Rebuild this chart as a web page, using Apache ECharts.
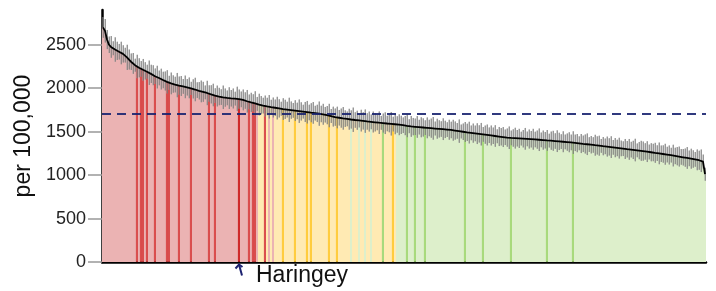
<!DOCTYPE html>
<html>
<head>
<meta charset="utf-8">
<script src="https://cdn.jsdelivr.net/npm/echarts@6/dist/echarts.min.js"></script>
<style>html,body{margin:0;padding:0;background:#fff;}#c{width:716px;height:291px;}</style>
</head>
<body>
<div id="c"></div>
<script>
// Rates per 100,000, sorted descending
const values = [
2700,2660,2560,2500,2475,2460,2445,2430,2420,2405,
2395,2380,2355,2330,2305,2285,2265,2250,2235,2222,
2212,2200,2190,2178,2165,2150,2138,2128,2118,2105,
2095,2083,2073,2062,2055,2048,2042,2036,2030,2025,
2020,2015,2010,2004,1998,1992,1985,1978,1970,1963,
1958,1952,1945,1938,1930,1922,1915,1910,1904,1898,
1895,1892,1889,1886,1884,1882,1880,1878,1875,1872,
1865,1858,1850,1843,1837,1831,1825,1820,1812,1805,
1800,1795,1790,1786,1782,1778,1775,1771,1768,1764,
1760,1757,1754,1751,1748,1745,1742,1739,1736,1733,
1730,1727,1724,1721,1718,1716,1713,1710,1707,1704,
1700,1695,1690,1685,1680,1673,1667,1663,1660,1656,
1653,1650,1647,1643,1640,1637,1634,1631,1629,1627,
1624,1621,1618,1616,1613,1611,1608,1606,1603,1601,
1599,1597,1594,1592,1590,1587,1585,1583,1580,1578,
1574,1570,1566,1563,1560,1558,1556,1554,1552,1550,
1548,1546,1544,1542,1540,1538,1536,1534,1532,1530,
1528,1526,1524,1522,1520,1516,1513,1509,1506,1502,
1499,1496,1492,1489,1486,1483,1480,1477,1474,1471,
1468,1465,1462,1459,1456,1453,1450,1447,1444,1441,
1438,1435,1432,1430,1428,1427,1425,1424,1422,1420,
1419,1418,1416,1415,1413,1412,1410,1408,1407,1405,
1403,1401,1399,1397,1396,1394,1392,1390,1388,1386,
1384,1382,1380,1378,1376,1374,1371,1368,1366,1363,
1360,1358,1355,1352,1350,1347,1344,1341,1339,1336,
1333,1331,1328,1325,1322,1319,1316,1313,1310,1307,
1304,1301,1298,1296,1293,1290,1288,1285,1282,1279,
1276,1273,1270,1266,1263,1260,1256,1253,1250,1246,
1243,1240,1236,1232,1229,1225,1221,1217,1213,1209,
1205,1201,1197,1193,1189,1185,1181,1176,1171,1165,
1156,1010
];
// 95% confidence interval half-widths (estimated)
const errHalf = [
120,135,110,95,125,80,140,105,90,130,
100,85,145,115,95,120,75,135,110,90,
125,100,80,140,105,115,90,130,85,120,
95,110,135,80,125,100,90,140,105,115,
85,130,95,120,75,110,135,90,100,125,
115,80,140,95,105,130,85,120,100,90,
135,105,85,125,95,115,80,140,110,90,
120,95,130,85,110,100,140,80,125,105,
90,120,100,135,85,115,95,130,105,80,
125,110,90,140,100,85,120,95,135,105,
80,115,130,90,110,125,85,100,140,95,
120,90,105,135,80,115,100,125,90,110,
130,95,85,120,105,140,90,110,80,125,
100,135,95,115,85,120,105,90,130,80,
110,125,90,100,135,85,115,95,120,105,
90,110,130,80,120,100,95,125,85,115,
105,85,120,95,110,130,80,115,100,90,
125,100,85,115,95,120,105,90,135,80,
95,115,100,125,85,110,90,120,100,130,
85,105,120,90,115,95,125,80,110,100,
115,90,105,130,85,100,120,95,110,80,
100,125,85,110,95,120,90,105,130,85,
110,95,120,80,105,115,90,125,100,85,
120,85,100,115,90,130,95,105,80,110,
95,110,125,85,100,90,120,105,115,80,
105,90,115,100,125,85,110,95,120,90,
85,115,95,120,90,105,130,80,100,115,
110,95,120,85,105,100,115,90,125,95,
100,120,90,110,85,125,95,105,115,90,
95,105,125,90,115,100,85,120,110,130,
80,75
];
// Significance groups: index where "similar" and "lower" bands start, plus exceptions
const similarFrom = 78;
const lowerFrom = 147;
const higherExtra = [81, 83, 85];
const lowerExtra = [124, 128, 131, 134, 140];
// Highlighted (darker) bars
const highlighted = [17,19,20,22,26,32,33,38,44,53,56,68,73,75,76,81,90,96,102,104,113,117,140,145,152,156,161,181,190,204,222,235];
const haringeyIndex = 68;
const englandValue = 1705;
const yTicks = [0, 500, 1000, 1500, 2000, 2500];
const categories = values.map((_, i) => i === haringeyIndex ? 'Haringey' : 'Area ' + (i + 1));

const palette = {
  higher: ['#ebb3b3', '#d43838'],
  similar: ['#ffeab3', '#ffc526'],
  lower: ['#ddefcb', '#9dd46c']
};
function groupOf(i) {
  if (higherExtra.includes(i)) return 'higher';
  if (lowerExtra.includes(i)) return 'lower';
  if (i < similarFrom) return 'higher';
  if (i < lowerFrom) return 'similar';
  return 'lower';
}
const barData = values.map((v, i) => {
  const g = groupOf(i);
  const hi = highlighted.includes(i);
  let color = palette[g][hi ? 1 : 0];
  if (i === haringeyIndex) color = '#c81010';
  return { value: v, itemStyle: hi ? { color, borderColor: color, borderWidth: 0.8 } : { color } };
});
const errData = values.map((v, i) => [i, v - errHalf[i], v + errHalf[i]]);

const FONT = '"Liberation Sans", Arial, sans-serif';
const chart = echarts.init(document.getElementById('c'), null, { renderer: 'canvas' });
chart.setOption({
  animation: false,
  grid: { left: 102, right: 10, top: 10, bottom: 29, containLabel: false },
  xAxis: {
    type: 'category',
    data: categories,
    boundaryGap: true,
    axisLine: { show: true, lineStyle: { color: '#000', width: 2.5 } },
    axisTick: { show: false },
    axisLabel: { show: false },
    splitLine: { show: false }
  },
  yAxis: {
    type: 'value',
    min: 0,
    max: 2900,
    name: 'per 100,000',
    nameLocation: 'middle',
    nameGap: 64,
    nameTextStyle: { fontFamily: FONT, fontSize: 23, color: '#111' },
    axisLine: { show: true, lineStyle: { color: '#000', width: 2.5 } },
    axisTick: { show: true, length: 14, customValues: yTicks, lineStyle: { color: '#999', width: 1.5 } },
    axisLabel: { show: true, customValues: yTicks, margin: 16, fontFamily: FONT, fontSize: 18, color: '#222', formatter: v => String(v) },
    splitLine: { show: false }
  },
  series: [
    {
      type: 'bar',
      data: barData,
      barCategoryGap: '0%',
      barGap: '0%',
      z: 1,
      markLine: {
        silent: true,
        symbol: 'none',
        label: { show: false },
        lineStyle: { color: '#1a2370', type: [9, 6], width: 2, opacity: 0.9 },
        data: [{ yAxis: englandValue }],
        z: 5
      }
    },
    {
      type: 'custom',
      data: errData,
      z: 3,
      renderItem: function (params, api) {
        const lo = api.coord([api.value(0), api.value(1)]);
        const hi = api.coord([api.value(0), api.value(2)]);
        const x = Math.round(lo[0]);
        return {
          type: 'group',
          children: [
            { type: 'line', shape: { x1: x, y1: lo[1], x2: x, y2: hi[1] }, style: { stroke: 'rgba(160,160,160,0.5)', lineWidth: 2 } },
            { type: 'line', shape: { x1: x + 0.5, y1: lo[1], x2: x + 0.5, y2: hi[1] }, style: { stroke: 'rgba(105,105,105,0.55)', lineWidth: 1 } }
          ]
        };
      }
    },
    {
      type: 'line',
      data: values,
      symbol: 'none',
      z: 4,
      lineStyle: { color: '#000', width: 1.8 }
    },
    {
      type: 'custom',
      data: [[haringeyIndex, 0]],
      z: 6,
      clip: false,
      renderItem: function (params, api) {
        const p = api.coord([api.value(0), api.value(1)]);
        const tipX = p[0], tipY = p[1] + 2.5;
        return {
          type: 'group',
          children: [
            { type: 'line', shape: { x1: tipX + 3, y1: tipY + 11, x2: tipX, y2: tipY }, style: { stroke: '#1c2170', lineWidth: 2 } },
            { type: 'polyline', shape: { points: [[tipX - 3.5, tipY + 4], [tipX, tipY], [tipX + 3.5, tipY + 2.5]] }, style: { stroke: '#1c2170', lineWidth: 2, fill: null } },
            { type: 'text', style: { x: p[0] + 17, y: p[1] + 14, text: categories[haringeyIndex], font: '23px ' + FONT, fill: '#111', verticalAlign: 'middle', align: 'left' } }
          ]
        };
      }
    }
  ]
});
</script>
</body>
</html>
